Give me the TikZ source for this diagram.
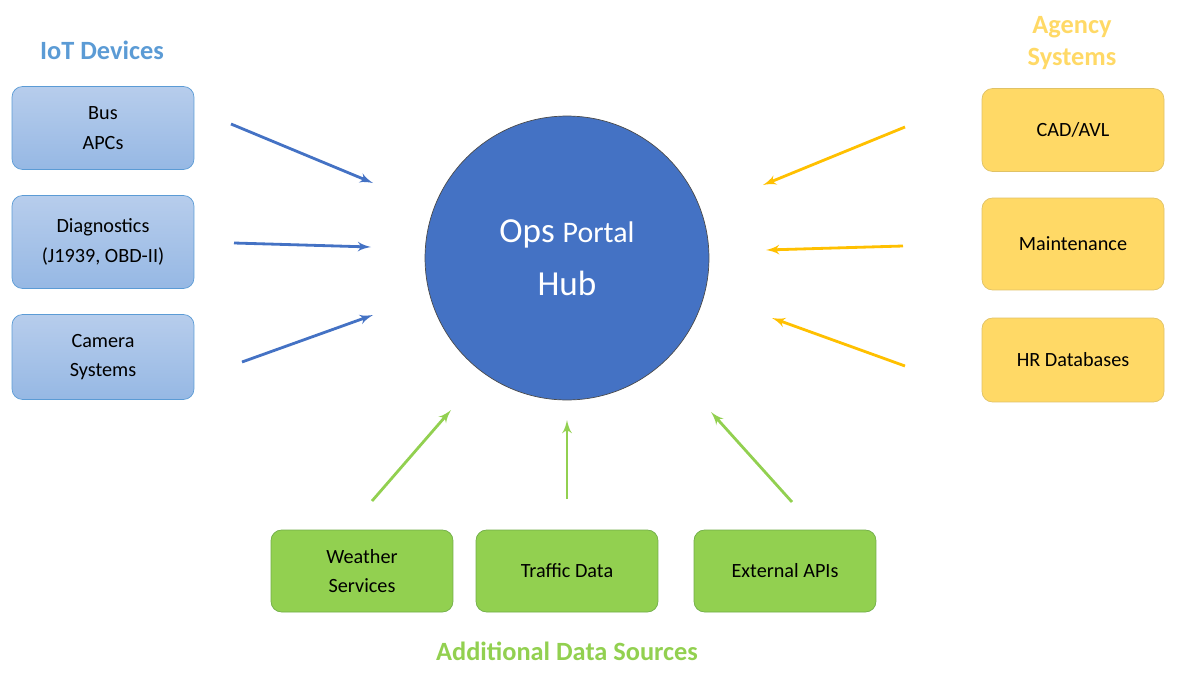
\documentclass[tikz,border=0pt]{standalone}
\usepackage{fontspec}
\setmainfont{Carlito}
\usepackage{tikz}
\usetikzlibrary{shapes, arrows, positioning}
\definecolor{iotblue}{RGB}{91,155,213}
\definecolor{iottop}{RGB}{183,205,236}
\definecolor{iotbot}{RGB}{150,184,228}
\definecolor{hubblue}{RGB}{68,114,196}
\definecolor{agyellow}{RGB}{255,217,102}
\definecolor{agline}{RGB}{255,192,0}
\definecolor{dsgreen}{RGB}{146,208,80}
\definecolor{dsline}{RGB}{112,173,71}
\tikzstyle{box}   = [draw, rectangle, rounded corners=6pt, minimum width=3.64cm, align=center, font=\fontsize{11.5}{17}\selectfont]
\tikzstyle{iot}   = [box, draw=iotblue, top color=iottop, bottom color=iotbot]
\tikzstyle{agy}   = [box, draw=agline!80!black!60, fill=agyellow]
\tikzstyle{ds}    = [box, draw=dsline, fill=dsgreen, minimum height=1.64cm]
\tikzstyle{title} = [font=\fontsize{15}{18}\selectfont\bfseries, align=center]
\tikzstyle{arr}   = [line width=1.6pt, -latex']

\begin{document}
\begin{tikzpicture}[x=0.02cm, y=-0.02cm]
\useasboundingbox (0,0) rectangle (1179,673);

% hub
\node [circle, draw=black!70, fill=hubblue, minimum size=5.68cm, text=white, align=center,
       font=\fontsize{20}{30}\selectfont] (hub) at (567,258)
       {Ops {\fontsize{17}{30}\selectfont Portal}\\Hub};

% iot devices
\node [title, text=iotblue]            (iott) at (102,50)   {IoT Devices};
\node [iot, minimum height=1.66cm]     (bus)  at (103,128)  {Bus\\APCs};
\node [iot, minimum height=1.86cm]     (diag) at (103,242)  {Diagnostics\\(J1939, OBD-II)};
\node [iot, minimum height=1.7cm]      (cam)  at (103,357)  {Camera\\Systems};

% agency systems
\node [title, text=agyellow]           (agt)  at (1072,43)  {Agency\\Systems};
\node [agy, minimum height=1.66cm]     (cad)  at (1073,130) {CAD/AVL};
\node [agy, minimum height=1.84cm]     (mnt)  at (1073,244) {Maintenance};
\node [agy, minimum height=1.68cm]     (hr)   at (1073,360) {HR Databases};

% data sources
\node [ds]                             (wth)  at (362,571)  {Weather\\Services};
\node [ds]                             (trf)  at (567,571)  {Traffic Data};
\node [ds]                             (api)  at (785,571)  {External APIs};
\node [title, text=dsgreen]            (dst)  at (567,651)  {Additional Data Sources};

% arrow ends
\coordinate (b1) at (231,124); \coordinate (b2) at (373,183);
\coordinate (d1) at (234,243); \coordinate (d2) at (371,247);
\coordinate (c1) at (242,362); \coordinate (c2) at (373,315);
\coordinate (y1) at (905,127); \coordinate (y2) at (763,185);
\coordinate (m1) at (903,246); \coordinate (m2) at (766,250);
\coordinate (h1) at (905,366); \coordinate (h2) at (772,318);
\coordinate (w1) at (372,501); \coordinate (w2) at (451,410);
\coordinate (t1) at (567,499); \coordinate (t2) at (567,420);
\coordinate (a1) at (792,502); \coordinate (a2) at (711,412);

% edges
\draw [arr, hubblue] (b1) -- (b2);
\draw [arr, hubblue] (d1) -- (d2);
\draw [arr, hubblue] (c1) -- (c2);
\draw [arr, agline]  (y1) -- (y2);
\draw [arr, agline]  (m1) -- (m2);
\draw [arr, agline]  (h1) -- (h2);
\draw [arr, dsgreen] (w1) -- (w2);
\draw [arr, dsgreen] (t1) -- (t2);
\draw [arr, dsgreen] (a1) -- (a2);

\end{tikzpicture}
\end{document}
